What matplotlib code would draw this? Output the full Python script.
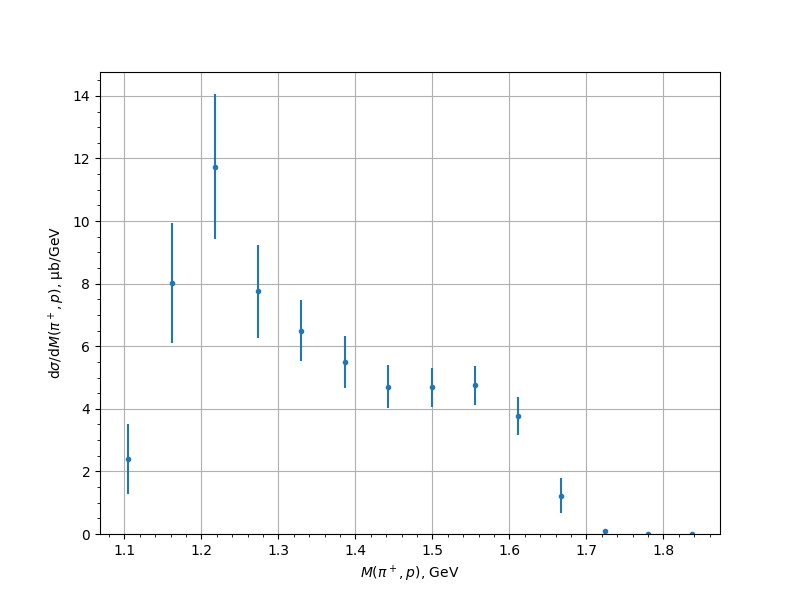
import matplotlib
matplotlib.use("Agg")
import matplotlib.pyplot as plt

mass = [1.105, 1.162, 1.218, 1.274, 1.330, 1.386, 1.443, 1.499, 1.555, 1.611, 1.667, 1.724, 1.780, 1.837]
xsec = [2.40, 8.02, 11.74, 7.76, 6.50, 5.50, 4.71, 4.69, 4.75, 3.77, 1.22, 0.09, 0.015, 0.005]
err = [1.12, 1.93, 2.32, 1.49, 0.98, 0.83, 0.69, 0.62, 0.62, 0.61, 0.56, 0.03, 0.01, 0.005]

fig, ax = plt.subplots(figsize=(8, 6), dpi=100)
ax.errorbar(mass, xsec, yerr=err, fmt='.')
ax.set_ylim(bottom=0)
ax.minorticks_on()
ax.grid(True)
ax.set_xlabel(r'$M(\pi^+,p)$, GeV')
ax.set_ylabel(r'd$\sigma$/d$M(\pi^+,p)$, μb/GeV')
fig.savefig('out.png')
